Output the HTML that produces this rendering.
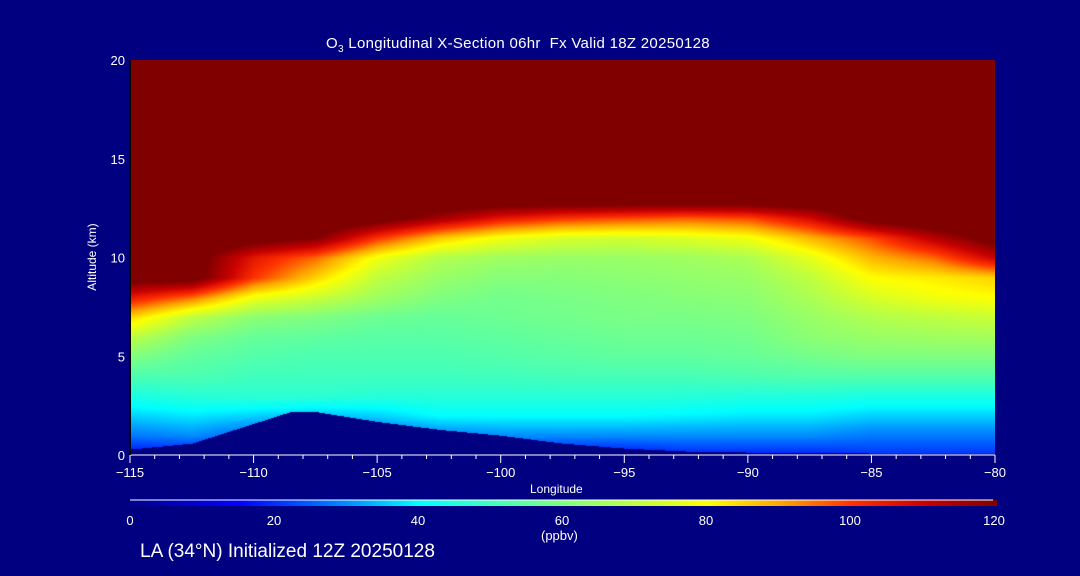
<!DOCTYPE html>
<html><head><meta charset="utf-8">
<style>
html,body{margin:0;padding:0;background:#000080;}
#wrap{position:relative;width:1080px;height:576px;background:#000080;overflow:hidden;font-family:"Liberation Sans","DejaVu Sans",sans-serif;color:#fff;}
.t{position:absolute;white-space:nowrap;}
</style></head>
<body>
<div id="wrap">
<div class="t" style="left:326px;top:35px;font-size:15px;letter-spacing:0.3px;">O<sub style="font-size:10px">3</sub> Longitudinal X-Section 06hr&nbsp; Fx Valid 18Z 20250128</div>
<canvas id="heat" width="865" height="395" style="position:absolute;left:130px;top:60px;"></canvas>
<svg id="ov" width="1080" height="576" style="position:absolute;left:0;top:0;"></svg>
<div class="t" style="left:52px;top:250px;font-size:12px;transform:rotate(-90deg);transform-origin:center;width:80px;text-align:center;">Altitude (km)</div>
<div class="t" style="left:530px;top:482px;font-size:12px;">Longitude</div>
<div class="t" style="left:541px;top:528px;font-size:13px;">(ppbv)</div>
<div class="t" style="left:140px;top:541px;font-size:19px;">LA (34°N) Initialized 12Z 20250128</div>
</div>
<script>
const lons=[-115,-112.5,-110,-107.5,-105,-102.5,-100,-97.5,-95,-92.5,-90,-87.5,-85,-82.5,-80];
const alts=[0,1,2,3,4,5,6,7,8,9,10,11,12,13,14,15,16,17,18,19,20];
const o3=[
[15,15,15,15,15,15,15,15,15,18,18,18,20,20,20],
[28,30,25,20,25,28,30,30,30,30,30,30,28,28,28],
[36,38,36,34,36,40,40,40,40,39,38,38,36,36,36],
[44,46,47,47,46,46,46,46,46,46,45,45,44,44,44],
[52,52,50,50,50,50,50,51,51,51,52,53,53,53,53],
[60,55,53,52,52,52,53,54,55,55,56,58,60,60,60],
[70,60,56,55,54,54,55,56,57,57,58,62,64,65,66],
[85,70,62,60,57,56,57,58,59,59,60,64,68,70,72],
[105,95,78,72,65,60,58,59,60,61,62,67,74,78,80],
[125,125,100,85,70,64,61,61,62,63,64,70,80,82,85],
[130,125,105,95,78,68,65,64,64,65,67,76,88,95,110],
[130,130,125,120,100,86,78,74,73,75,78,88,98,112,125],
[130,130,130,130,125,115,105,100,98,96,98,108,125,130,130],
[130,130,130,130,130,130,130,130,130,130,130,130,130,130,130],
[130,130,130,130,130,130,130,130,130,130,130,130,130,130,130],
[130,130,130,130,130,130,130,130,130,130,130,130,130,130,130],
[130,130,130,130,130,130,130,130,130,130,130,130,130,130,130],
[130,130,130,130,130,130,130,130,130,130,130,130,130,130,130],
[130,130,130,130,130,130,130,130,130,130,130,130,130,130,130],
[130,130,130,130,130,130,130,130,130,130,130,130,130,130,130],
[130,130,130,130,130,130,130,130,130,130,130,130,130,130,130]];
const terrLon=[-115,-112.5,-110,-108.5,-107.5,-105,-102.5,-100,-97.5,-95,-92.5,-90,-85,-80];
const terrAlt=[0.3,0.6,1.6,2.2,2.2,1.7,1.3,1.0,0.6,0.35,0.2,0.15,0.1,0.1];
const xTicks=[-115,-110,-105,-100,-95,-90,-85,-80];
const yTicks=[0,5,10,15,20];
const cbTicks=[0,20,40,60,80,100,120];

const X0=130,X1=995,Y0=455,Y1=60;
const xs=v=>X0+(v-(-115))/35*(X1-X0);
const ys=v=>Y0-(v/20)*(Y0-Y1);
const stops=[[0,[0,0,140]],[15,[0,0,255]],[30,[0,140,255]],[40,[0,255,255]],[50,[64,255,190]],[60,[128,255,128]],[70,[190,255,64]],[80,[255,255,0]],[90,[255,165,0]],[100,[255,48,0]],[110,[200,0,0]],[120,[128,0,0]]];
function cmap(v){if(v<=0)return stops[0][1];if(v>=120)return stops[stops.length-1][1];
for(let i=1;i<stops.length;i++){if(v<=stops[i][0]){const a=stops[i-1],b=stops[i],t=(v-a[0])/(b[0]-a[0]);return a[1].map((c,k)=>Math.round(c+(b[1][k]-c)*t));}}}
function interp1(arrX,arrY,x){if(x<=arrX[0])return arrY[0];for(let i=1;i<arrX.length;i++){if(x<=arrX[i]){const t=(x-arrX[i-1])/(arrX[i]-arrX[i-1]);return arrY[i-1]+(arrY[i]-arrY[i-1])*t;}}return arrY[arrY.length-1];}
function field(lon,alt){let i=0;while(i<lons.length-2&&lon>lons[i+1])i++;let j=0;while(j<alts.length-2&&alt>alts[j+1])j++;
const tx=Math.min(1,Math.max(0,(lon-lons[i])/(lons[i+1]-lons[i]))),ty=Math.min(1,Math.max(0,(alt-alts[j])/(alts[j+1]-alts[j])));
const a=o3[j][i],b=o3[j][i+1],c=o3[j+1][i],d=o3[j+1][i+1];return (a*(1-tx)+b*tx)*(1-ty)+(c*(1-tx)+d*tx)*ty;}
const cv=document.getElementById('heat'),ctx=cv.getContext('2d');const W=cv.width,H=cv.height;const img=ctx.createImageData(W,H);
for(let py=0;py<H;py++){const alt=(H-py)/H*20;for(let px=0;px<W;px++){const lon=-115+px/W*35;let col;
if(alt<interp1(terrLon,terrAlt,lon))col=[0,0,128];else col=cmap(field(lon,alt));
const k=(py*W+px)*4;img.data[k]=col[0];img.data[k+1]=col[1];img.data[k+2]=col[2];img.data[k+3]=255;}}
ctx.putImageData(img,0,0);

const NS='http://www.w3.org/2000/svg',ov=document.getElementById('ov');
function mk(tag,at){const e=document.createElementNS(NS,tag);for(const k in at)e.setAttribute(k,at[k]);ov.appendChild(e);return e;}
let e=mk('line',{x1:X0,y1:Y0,x2:X1,y2:Y0,stroke:'#fff','stroke-width':1});


e=mk('line',{x1:X0,y1:Y0,x2:X0,y2:Y1,stroke:'#000','stroke-width':2});


for(let v=-115;v<=-80;v++){const maj=xTicks.includes(v);
e=mk('line',{x1:xs(v),y1:Y0,x2:xs(v),y2:Y0+(maj?8:4),stroke:'#fff','stroke-width':1});

}
xTicks.forEach(v=>{e=mk('text',{x:xs(v),y:Y0+22,fill:'#fff','font-size':13,'text-anchor':'middle','font-family':'Liberation Sans, sans-serif'});e.textContent=(v<0?'\u2212'+(-v):v);

});
yTicks.forEach(v=>{e=mk('text',{x:X0-5,y:ys(v)+5,fill:'#fff','font-size':13,'text-anchor':'end','font-family':'Liberation Sans, sans-serif'});e.textContent=v;

});
const CB0=130,CB1=997;
const grad=mk('defs',{});grad.innerHTML='<linearGradient id="cbg" x1="0" x2="1" y1="0" y2="0">'+stops.map(s=>'<stop offset="'+(s[0]/120)+'" stop-color="rgb('+s[1].join(',')+')"/>').join('')+'</linearGradient>';
e=mk('rect',{x:CB0,y:500,width:CB1-CB0,height:6,fill:'url(#cbg)'});


e=mk('line',{x1:CB0,y1:500,x2:CB1-4,y2:500,stroke:'#fff','stroke-width':1});


cbTicks.forEach(v=>{e=mk('text',{x:CB0+v/120*(CB1-CB0-3),y:525,fill:'#fff','font-size':13,'text-anchor':'middle','font-family':'Liberation Sans, sans-serif'});e.textContent=v;

});
</script>
</body></html>
